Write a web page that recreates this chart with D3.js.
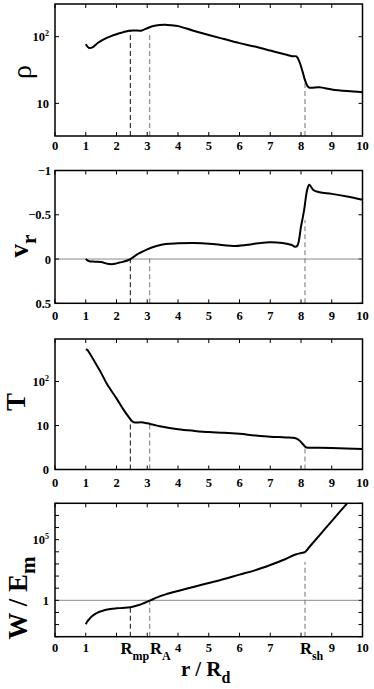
<!DOCTYPE html>
<html><head><meta charset="utf-8">
<script src="https://cdn.jsdelivr.net/npm/d3@7"></script>
<style>
html,body{margin:0;padding:0;background:#fff;}
svg{display:block;}
text{font-family:"Liberation Serif","Times New Roman",serif;font-weight:bold;fill:#000;}
</style></head>
<body>
<svg id="chart" width="374" height="689"></svg>
<script>
// ---------- data ----------
const xTicks = [0,1,2,3,4,5,6,7,8,9,10];
const xTickLabels = ["0","1","2","3","4","5","6","7","8","9","10"];
const xTickLabelsLast = ["0","1","","","4","5","6","7","","9","10"];
const radiiR = [2.45, 3.08, 8.13];
const radiiNames = ["R", "R", "R"];
const radiiSubs = ["mp", "A", "sh"];

const rhoR = [1.0,1.1,1.2,1.4,1.6,1.8,2.0,2.2,2.4,2.6,2.8,3.0,3.2,3.4,3.6,3.8,4.0,4.5,5.0,5.5,6.0,6.5,7.0,7.5,7.7,7.85,7.95,8.05,8.15,8.25,8.6,9.0,9.5,10];
const rho  = [77,68,68.5,81,92,101,109,116,123,124,123,134,145,150,151,148,144,123,106,92,80,71,62,54,51,50.5,42,30,21,17.4,17.4,16.2,15.3,14.7];
const rhoTicks = [10, 100];
const rhoMarks = [123, 119, 22];

const vrR = [1.0,1.1,1.3,1.5,1.7,1.9,2.1,2.3,2.45,2.7,3.0,3.3,3.6,4.0,4.5,5.0,5.5,5.8,6.2,6.6,7.0,7.4,7.7,7.8,7.88,8.0,8.1,8.2,8.27,8.4,8.6,9.0,9.5,10];
const vr  = [0,0.023,0.03,0.034,0.053,0.057,0.04,0.023,0,-0.057,-0.11,-0.147,-0.17,-0.177,-0.18,-0.174,-0.155,-0.147,-0.158,-0.177,-0.189,-0.18,-0.158,-0.14,-0.15,-0.366,-0.55,-0.78,-0.84,-0.78,-0.755,-0.736,-0.706,-0.67];
const vrTicks = [-1, -0.5, 0, 0.5];
const vrTickLabels = ["\u22121", "\u22120.5", "0", "0.5"];
const vrMarks = [0, -0.034, -0.44];

const tR = [1.0,1.05,1.1,1.3,1.5,1.7,2.0,2.2,2.4,2.5,2.6,2.8,3.0,3.2,3.5,4.0,4.5,5.0,5.5,6.0,6.5,7.0,7.5,7.8,7.95,8.05,8.15,8.25,8.6,9.0,10];
const tVal = [537,525,468,275,157,85,41.4,24.5,15.5,12.7,11.7,11.9,11.2,10.4,9.33,8.26,7.59,7.08,6.84,6.46,5.94,5.55,5.37,5.18,4.57,3.85,3.24,3.13,3.13,3.09,2.92];
const tTicks = [1, 10, 100];
const tMarks = [12.5, 11, 3.1];

const wR = [1.0,1.05,1.1,1.2,1.4,1.6,1.8,2.0,2.2,2.45,2.7,2.9,3.08,3.3,3.6,4.0,4.5,5.0,5.5,6.0,6.5,7.0,7.5,7.8,8.0,8.13,8.3,8.6,9.0,9.3,9.6];
const wVal = [0.0105,0.0178,0.0257,0.0479,0.102,0.151,0.195,0.219,0.234,0.263,0.389,0.603,0.933,1.66,3.09,5.89,12.6,26.9,57.5,132,295,813,2570,5750,7940,9550,30200,229000,3.39e6,2.57e7,1.95e8];
const wTicks = [1e-3,1e-2,1e-1,1,1e1,1e2,1e3,1e4,1e5,1e6,1e7,1e8];
const wMarks = [0.28, 0.72, 1450];

// ---------- layout ----------
const svg = d3.select("#chart");
const X0 = 55, X1 = 362.5;
const x = d3.scaleLinear().domain([0,10]).range([X0, X1]);
const tickLen = 4;

function supLabel(sel, base, sup) {
  sel.append("tspan").text(base);
  if (sup !== null) sel.append("tspan").attr("dy", -5).attr("font-size", 8).text(sup);
}

function panel(cfg) {
  const g = svg.append("g");
  const y = cfg.y;
  const clipId = "clip" + cfg.id;
  svg.append("clipPath").attr("id", clipId).append("rect")
    .attr("x", X0).attr("y", cfg.top).attr("width", X1 - X0).attr("height", cfg.bottom - cfg.top);

  // reference horizontal line
  if (cfg.refLine !== undefined) {
    g.append("line").attr("x1", X0).attr("x2", X1 - 4)
      .attr("y1", y(cfg.refLine)).attr("y2", y(cfg.refLine))
      .attr("stroke", "#8a8a8a").attr("stroke-width", 1);
  }
  // dashed radii markers
  radiiR.forEach((r, i) => {
    g.append("line").attr("x1", x(r)).attr("x2", x(r))
      .attr("y1", cfg.bottom).attr("y2", y(cfg.marks[i]))
      .attr("stroke", i === 0 ? "#222" : "#808080").attr("stroke-width", 1.1)
      .attr("stroke-dasharray", "5,3");
  });
  // curve
  const line = d3.line().x(d => x(d[0])).y(d => y(d[1])).curve(d3.curveCatmullRom.alpha(0.5));
  g.append("path").datum(d3.zip(cfg.rs, cfg.vals)).attr("d", line)
    .attr("fill", "none").attr("stroke", "#000").attr("stroke-width", 2)
    .attr("clip-path", "url(#" + clipId + ")");

  // frame
  g.append("rect").attr("x", X0).attr("y", cfg.top).attr("width", X1 - X0).attr("height", cfg.bottom - cfg.top)
    .attr("fill", "none").attr("stroke", "#000").attr("stroke-width", 1.5);

  // x ticks (inward, top and bottom)
  xTicks.forEach(t => {
    g.append("line").attr("x1", x(t)).attr("x2", x(t)).attr("y1", cfg.bottom).attr("y2", cfg.bottom - tickLen).attr("stroke", "#000");
    g.append("line").attr("x1", x(t)).attr("x2", x(t)).attr("y1", cfg.top).attr("y2", cfg.top + tickLen).attr("stroke", "#000");
  });
  const labs = cfg.xLabels;
  xTicks.forEach((t, i) => {
    if (!labs[i]) return;
    g.append("text").attr("x", x(t)).attr("y", cfg.bottom + cfg.xLabOff)
      .attr("text-anchor", "middle").attr("font-size", 12.5).text(labs[i]);
  });
  // y ticks
  cfg.yTicks.forEach((t, i) => {
    g.append("line").attr("x1", X0).attr("x2", X0 + tickLen).attr("y1", y(t)).attr("y2", y(t)).attr("stroke", "#000");
    g.append("line").attr("x1", X1).attr("x2", X1 - tickLen).attr("y1", y(t)).attr("y2", y(t)).attr("stroke", "#000");
    const lab = cfg.yLabel(t, i);
    if (lab) {
      const tx = g.append("text").attr("x", cfg.yLabX).attr("y", y(t) + 4.5)
        .attr("text-anchor", "end").attr("font-size", 12.5);
      supLabel(tx, lab[0], lab[1]);
    }
  });
  // title
  const tt = g.append("text").attr("transform", `translate(${cfg.title.x},${cfg.title.y}) rotate(-90)`)
    .attr("text-anchor", "middle").attr("font-size", cfg.title.size);
  tt.append("tspan").text(cfg.title.main).attr("font-weight", cfg.title.weight || "bold");
  if (cfg.title.sub) tt.append("tspan").attr("dy", 8).attr("font-size", cfg.title.size * 0.78).text(cfg.title.sub);
  return g;
}

// panel 1: rho
panel({
  id: 1, top: 4, bottom: 136,
  y: d3.scaleLog().domain([3.24, 309]).range([136, 4]),
  rs: rhoR, vals: rho, marks: rhoMarks,
  xLabels: xTickLabels, xLabOff: 14,
  yTicks: rhoTicks, yLabX: 49,
  yLabel: t => t === 100 ? ["10", "2"] : ["10", null],
  title: {x: 31, y: 72, size: 28, main: "\u03C1", weight: "normal"}
});

// panel 2: v_r
panel({
  id: 2, top: 170.5, bottom: 303.3,
  y: d3.scaleLinear().domain([-1, 0.5]).range([170.5, 303.3]),
  rs: vrR, vals: vr, marks: vrMarks, refLine: 0,
  xLabels: xTickLabels, xLabOff: 17,
  yTicks: vrTicks, yLabX: 51,
  yLabel: (t, i) => [vrTickLabels[i], null],
  title: {x: 28, y: 246, size: 27, main: "v", sub: "r"}
});

// panel 3: T
panel({
  id: 3, top: 339, bottom: 469.5,
  y: d3.scaleLog().domain([1, 925]).range([469.5, 339]),
  rs: tR, vals: tVal, marks: tMarks,
  xLabels: xTickLabels, xLabOff: 17,
  yTicks: tTicks, yLabX: 49,
  yLabel: t => t === 100 ? ["10", "2"] : (t === 10 ? ["10", null] : ["0", null]),
  title: {x: 25, y: 402, size: 27, main: "T"}
});

// panel 4: W / E_m
panel({
  id: 4, top: 503.3, bottom: 636.7,
  y: d3.scaleLog().domain([1e-3, 1e8]).range([636.7, 503.3]),
  rs: wR, vals: wVal, marks: wMarks, refLine: 1,
  xLabels: xTickLabelsLast, xLabOff: 15,
  yTicks: wTicks, yLabX: 49,
  yLabel: t => t === 1e5 ? ["10", "5"] : (t === 1 ? ["1", null] : null),
  title: {x: 27, y: 598, size: 27, main: "W / E", sub: "m"}
});

// radius labels on the last panel
const radLabelX = [120.5, 150, 300];
radiiR.forEach((r, i) => {
  const t = svg.append("text").attr("x", radLabelX[i]).attr("y", 654).attr("font-size", 16.5);
  t.append("tspan").text(radiiNames[i]);
  t.append("tspan").attr("dy", 6).attr("font-size", 12).text(radiiSubs[i]);
});
// x axis title
const xt = svg.append("text").attr("x", 181).attr("y", 675.5).attr("font-size", 21);
xt.append("tspan").text("r / R");
xt.append("tspan").attr("dy", 7).attr("font-size", 16).text("d");
</script>
</body></html>
